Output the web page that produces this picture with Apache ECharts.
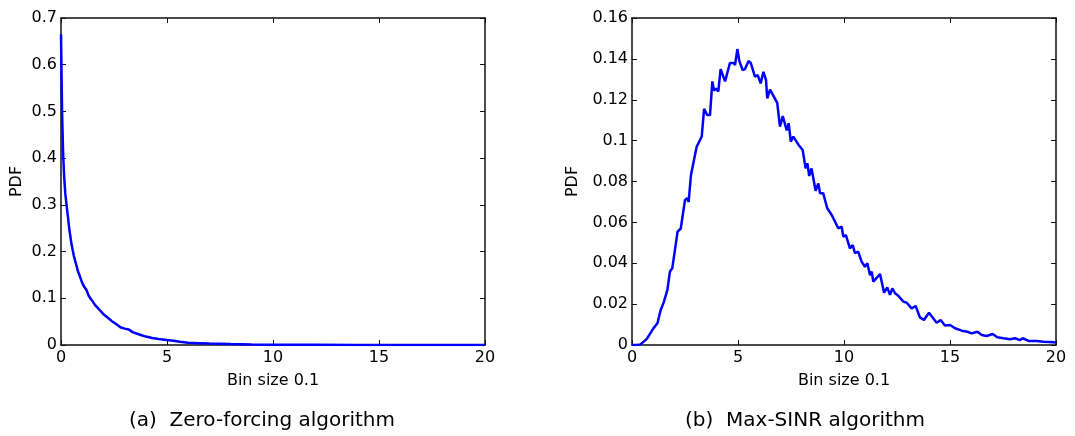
<!DOCTYPE html>
<html>
<head>
<meta charset="utf-8">
<script src="https://cdn.jsdelivr.net/npm/echarts@6/dist/echarts.min.js"></script>
<style>
html,body{margin:0;padding:0;background:#fff;}
#chart{width:1075px;height:436px;}
</style>
</head>
<body>
<div id="chart"></div>
<script>
// ---- Data ----
const xTicksMin = 0, xTicksMax = 20, xTickStep = 5;

// (a) Zero-forcing algorithm
const zfX = [0,0.05,0.1,0.15,0.2,0.3,0.4,0.5,0.6,0.7,0.8,0.9,1.0,1.1,1.2,1.3,1.4,1.5,1.6,1.7,1.8,2.0,2.2,2.4,2.6,2.8,3.0,3.2,3.4,3.6,3.8,4.0,4.3,4.6,5.0,5.3,5.6,6.0,6.5,7,8,9,10,12,14,16,18,20];
const zfY = [0.665,0.50,0.41,0.36,0.325,0.285,0.245,0.215,0.192,0.175,0.158,0.146,0.133,0.124,0.118,0.106,0.099,0.093,0.086,0.081,0.076,0.066,0.059,0.051,0.045,0.038,0.035,0.033,0.027,0.024,0.021,0.018,0.015,0.013,0.0105,0.009,0.007,0.005,0.004,0.003,0.002,0.0012,0.0008,0.0004,0.0002,0.0001,0.0001,0.0];

// (b) Max-SINR algorithm
const msX = [0,0.2,0.4,0.7,1.0,1.2,1.35,1.5,1.67,1.79,1.9,2.15,2.3,2.5,2.6,2.67,2.78,3.05,3.29,3.4,3.55,3.68,3.79,3.87,3.96,4.07,4.18,4.39,4.62,4.78,4.86,4.97,5.06,5.22,5.33,5.5,5.6,5.69,5.8,5.93,6.07,6.2,6.32,6.38,6.51,6.85,6.98,7.11,7.3,7.39,7.49,7.61,7.85,8.05,8.19,8.27,8.36,8.47,8.66,8.79,8.87,9.02,9.21,9.42,9.73,9.89,9.97,10.09,10.28,10.41,10.52,10.67,10.83,10.99,11.1,11.23,11.31,11.38,11.7,11.89,12.04,12.17,12.28,12.41,12.56,12.8,12.96,13.19,13.38,13.58,13.77,14.01,14.18,14.37,14.56,14.76,15.0,15.24,15.55,15.82,16.02,16.29,16.5,16.73,17.01,17.23,17.52,17.83,18.07,18.3,18.43,18.7,19.09,19.4,19.72,20];
const msY = [0,0,0.0003,0.003,0.008,0.0106,0.017,0.021,0.027,0.036,0.0375,0.0555,0.057,0.071,0.0718,0.070,0.083,0.097,0.102,0.1155,0.1125,0.1125,0.129,0.1245,0.1255,0.124,0.135,0.129,0.138,0.138,0.137,0.1448,0.139,0.1345,0.135,0.139,0.138,0.1386,0.1313,0.132,0.128,0.1337,0.1297,0.1207,0.125,0.1185,0.1068,0.112,0.105,0.1085,0.0995,0.102,0.098,0.0954,0.0864,0.0889,0.0827,0.0864,0.0755,0.079,0.0742,0.0742,0.0669,0.0636,0.0571,0.0579,0.053,0.0538,0.0473,0.0489,0.0449,0.0457,0.0408,0.0383,0.04,0.0342,0.0359,0.031,0.0347,0.0256,0.0282,0.0245,0.0277,0.0253,0.0241,0.0212,0.0207,0.0179,0.0191,0.0135,0.0122,0.0158,0.0135,0.0109,0.0122,0.0095,0.0098,0.0082,0.007,0.0065,0.0057,0.0065,0.0049,0.0044,0.0054,0.0038,0.0033,0.0028,0.0033,0.0024,0.0033,0.002,0.002,0.0016,0.0015,0.0012];

const yLeftMax = 0.7, yLeftStep = 0.1;
const yRightMax = 0.16, yRightStep = 0.02;

const xName = 'Bin size 0.1';
const yName = 'PDF';
const captionA = '(a)  Zero-forcing algorithm';
const captionB = '(b)  Max-SINR algorithm';

// ---- Chart ----
const FONT = '"DejaVu Sans", "Liberation Sans", Arial, sans-serif';
const chart = echarts.init(document.getElementById('chart'), null, {renderer: 'canvas'});

function pairs(xs, ys) { return xs.map((x, i) => [x, ys[i]]); }

const lineAxis = {show: true, onZero: false, lineStyle: {color: '#111', width: 1.5}};
const tick = {show: true, inside: true, length: 5, lineStyle: {color: '#111', width: 1}};
const labelStyle = {color: '#000', fontFamily: FONT, fontSize: 16};

function xAx(grid, pos, main) {
  return {
    type: 'value', gridIndex: grid, position: pos,
    min: xTicksMin, max: xTicksMax, interval: xTickStep,
    axisLine: lineAxis, axisTick: tick, splitLine: {show: false},
    axisLabel: Object.assign({show: main, margin: 5}, labelStyle),
    name: main ? xName : '', nameLocation: 'middle', nameGap: 28,
    nameTextStyle: {color: '#000', fontFamily: FONT, fontSize: 16}
  };
}
function yAx(grid, pos, main, max, step, gap) {
  return {
    type: 'value', gridIndex: grid, position: pos,
    min: 0, max: max, interval: step,
    axisLine: lineAxis, axisTick: tick, splitLine: {show: false},
    axisLabel: Object.assign({show: main, margin: 4}, labelStyle),
    name: main ? yName : '', nameLocation: 'middle', nameGap: gap, nameRotate: 90,
    nameTextStyle: {color: '#000', fontFamily: FONT, fontSize: 16}
  };
}

chart.setOption({
  animation: false,
  backgroundColor: '#fff',
  grid: [
    {left: 61, top: 18, width: 424, height: 327},
    {left: 632, top: 18, width: 424, height: 327}
  ],
  xAxis: [
    xAx(0, 'bottom', true), xAx(0, 'top', false),
    xAx(1, 'bottom', true), xAx(1, 'top', false)
  ],
  yAxis: [
    yAx(0, 'left', true, yLeftMax, yLeftStep, 36), yAx(0, 'right', false, yLeftMax, yLeftStep, 0),
    yAx(1, 'left', true, yRightMax, yRightStep, 51), yAx(1, 'right', false, yRightMax, yRightStep, 0)
  ],
  series: [
    {type: 'line', xAxisIndex: 0, yAxisIndex: 0, data: pairs(zfX, zfY), showSymbol: false,
     lineStyle: {color: '#0000ff', width: 2.5}, itemStyle: {color: '#0000ff'}},
    {type: 'line', xAxisIndex: 2, yAxisIndex: 2, data: pairs(msX, msY), showSymbol: false,
     lineStyle: {color: '#0000ff', width: 2.5}, itemStyle: {color: '#0000ff'}}
  ],
  graphic: [
    {type: 'text', x: 262, y: 421, style: {text: captionA, font: '20px ' + FONT, fill: '#000', align: 'center', verticalAlign: 'middle'}},
    {type: 'text', x: 805, y: 421, style: {text: captionB, font: '20px ' + FONT, fill: '#000', align: 'center', verticalAlign: 'middle'}}
  ]
});
</script>
</body>
</html>
